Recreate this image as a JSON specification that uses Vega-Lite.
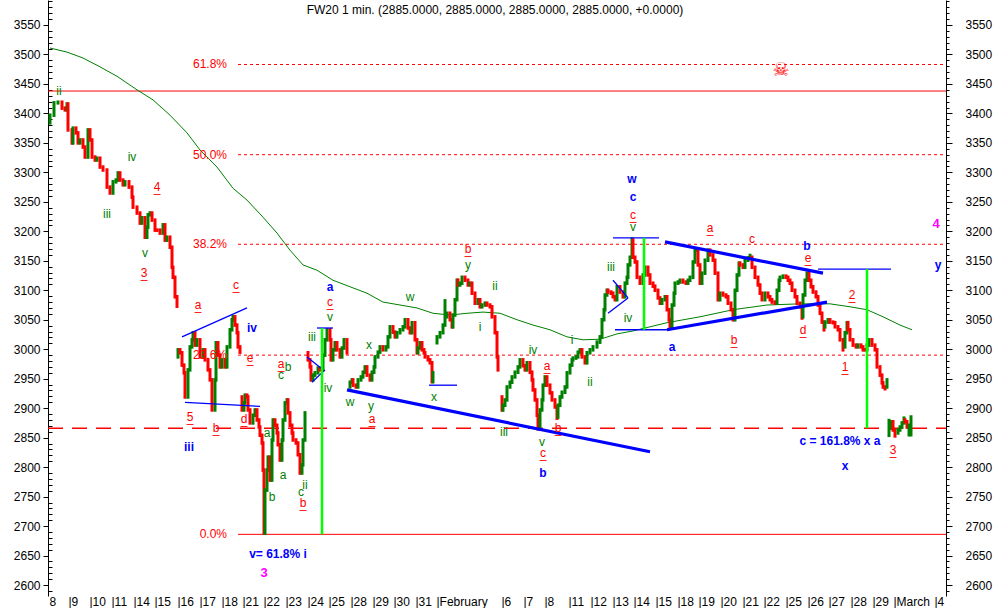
{
"$schema":"https://vega.github.io/schema/vega-lite/v6.json",
"width":898,"height":596,
"autosize":"none",
"padding":{"left":48,"top":0,"right":48,"bottom":12},
"background":"white",
"config":{"view":{"stroke":null},"font":"Liberation Sans","text":{"font":"Liberation Sans"}},
"resolve":{"axis":{"y":"independent"}},
"datasets":{
"dotted":[{"t":190,"t2":898,"v":3483},{"t":190,"t2":898,"v":3330},{"t":190,"t2":898,"v":3178},{"t":190,"t2":898,"v":2990}],
"solid":[{"t":0,"t2":898,"v":3438},{"t":190,"t2":898,"v":2686}],
"dashed":[{"t":0,"t2":898,"v":2866}],
"ma":[{"t":2,"v":3511},{"t":19,"v":3504},{"t":35,"v":3494},{"t":52,"v":3479},{"t":69,"v":3463},{"t":89,"v":3440},{"t":105,"v":3423},{"t":122,"v":3397},{"t":139,"v":3367},{"t":152,"v":3338},{"t":169,"v":3309},{"t":185,"v":3273},{"t":199,"v":3253},{"t":215,"v":3224},{"t":229,"v":3197},{"t":242,"v":3168},{"t":255,"v":3143},{"t":269,"v":3134},{"t":285,"v":3117},{"t":302,"v":3106},{"t":319,"v":3095},{"t":335,"v":3080},{"t":352,"v":3075},{"t":369,"v":3070},{"t":385,"v":3061},{"t":402,"v":3058},{"t":419,"v":3061},{"t":435,"v":3063},{"t":452,"v":3061},{"t":469,"v":3050},{"t":485,"v":3041},{"t":502,"v":3033},{"t":519,"v":3021},{"t":535,"v":3016},{"t":552,"v":3017},{"t":569,"v":3026},{"t":585,"v":3031},{"t":602,"v":3038},{"t":619,"v":3045},{"t":652,"v":3055},{"t":685,"v":3067},{"t":719,"v":3075},{"t":752,"v":3077},{"t":782,"v":3077},{"t":802,"v":3072},{"t":819,"v":3067},{"t":835,"v":3055},{"t":852,"v":3041},{"t":864,"v":3033}],
"px":[
{"t":2,"v":3381,"v2":3400,"d":"u"},{"t":6,"v":3394,"v2":3421,"d":"u"},{"t":10,"v":3415,"v2":3422,"d":"u"},{"t":14,"v":3406,"v2":3422,"d":"d"},{"t":17,"v":3403,"v2":3412,"d":"d"},{"t":19,"v":3403,"v2":3419,"d":"u"},{"t":20,"v":3369,"v2":3419,"d":"d"},{"t":24,"v":3347,"v2":3375,"d":"d"},{"t":25,"v":3347,"v2":3378,"d":"u"},{"t":28,"v":3364,"v2":3378,"d":"d"},{"t":30,"v":3347,"v2":3370,"d":"d"},{"t":32,"v":3347,"v2":3358,"d":"u"},{"t":35,"v":3340,"v2":3358,"d":"d"},{"t":37,"v":3323,"v2":3346,"d":"d"},{"t":40,"v":3323,"v2":3375,"d":"u"},{"t":42,"v":3352,"v2":3375,"d":"d"},{"t":44,"v":3323,"v2":3358,"d":"d"},{"t":47,"v":3318,"v2":3329,"d":"d"},{"t":49,"v":3318,"v2":3327,"d":"u"},{"t":52,"v":3306,"v2":3327,"d":"d"},{"t":55,"v":3301,"v2":3312,"d":"d"},{"t":59,"v":3272,"v2":3307,"d":"d"},{"t":62,"v":3262,"v2":3278,"d":"d"},{"t":65,"v":3262,"v2":3287,"d":"u"},{"t":68,"v":3281,"v2":3290,"d":"u"},{"t":70,"v":3284,"v2":3302,"d":"u"},{"t":72,"v":3284,"v2":3302,"d":"d"},{"t":75,"v":3276,"v2":3290,"d":"d"},{"t":77,"v":3276,"v2":3287,"d":"u"},{"t":81,"v":3272,"v2":3287,"d":"d"},{"t":84,"v":3255,"v2":3278,"d":"d"},{"t":85,"v":3238,"v2":3261,"d":"d"},{"t":89,"v":3228,"v2":3244,"d":"d"},{"t":92,"v":3211,"v2":3234,"d":"d"},{"t":94,"v":3211,"v2":3226,"d":"u"},{"t":97,"v":3187,"v2":3226,"d":"d"},{"t":99,"v":3187,"v2":3210,"d":"u"},{"t":100,"v":3204,"v2":3231,"d":"u"},{"t":102,"v":3225,"v2":3234,"d":"u"},{"t":104,"v":3216,"v2":3234,"d":"d"},{"t":107,"v":3199,"v2":3222,"d":"d"},{"t":109,"v":3199,"v2":3205,"d":"d"},{"t":112,"v":3194,"v2":3205,"d":"d"},{"t":115,"v":3194,"v2":3214,"d":"u"},{"t":117,"v":3182,"v2":3214,"d":"d"},{"t":119,"v":3182,"v2":3193,"d":"u"},{"t":122,"v":3170,"v2":3193,"d":"d"},{"t":124,"v":3136,"v2":3176,"d":"d"},{"t":125,"v":3119,"v2":3142,"d":"d"},{"t":127,"v":3086,"v2":3125,"d":"d"},{"t":129,"v":3070,"v2":3092,"d":"d"},
{"t":130,"v":2984,"v2":3002,"d":"u"},{"t":132,"v":2991,"v2":3002,"d":"d"},{"t":134,"v":2970,"v2":2997,"d":"d"},{"t":136,"v":2957,"v2":2976,"d":"d"},{"t":137,"v":2916,"v2":2963,"d":"d"},{"t":140,"v":2916,"v2":2968,"d":"u"},{"t":142,"v":2962,"v2":3007,"d":"u"},{"t":144,"v":3001,"v2":3019,"d":"u"},{"t":145,"v":3013,"v2":3031,"d":"u"},{"t":147,"v":3004,"v2":3031,"d":"d"},{"t":149,"v":3004,"v2":3019,"d":"u"},{"t":152,"v":2984,"v2":3019,"d":"d"},{"t":155,"v":2984,"v2":3002,"d":"u"},{"t":157,"v":2979,"v2":3002,"d":"d"},{"t":160,"v":2962,"v2":2985,"d":"d"},{"t":162,"v":2945,"v2":2968,"d":"d"},{"t":164,"v":2894,"v2":2951,"d":"d"},{"t":167,"v":2894,"v2":2951,"d":"u"},{"t":168,"v":2945,"v2":3014,"d":"u"},{"t":170,"v":2987,"v2":3014,"d":"d"},{"t":172,"v":2967,"v2":2993,"d":"d"},{"t":174,"v":2967,"v2":2985,"d":"u"},{"t":177,"v":2967,"v2":2985,"d":"d"},{"t":179,"v":2967,"v2":3007,"d":"u"},{"t":182,"v":3001,"v2":3036,"d":"u"},{"t":184,"v":3030,"v2":3053,"d":"u"},{"t":185,"v":3047,"v2":3058,"d":"u"},{"t":187,"v":3038,"v2":3058,"d":"d"},{"t":189,"v":3025,"v2":3044,"d":"d"},{"t":190,"v":3001,"v2":3031,"d":"d"},{"t":192,"v":2992,"v2":3007,"d":"d"},
{"t":194,"v":2894,"v2":2922,"d":"d"},{"t":196,"v":2894,"v2":2912,"d":"u"},{"t":197,"v":2906,"v2":2925,"d":"u"},{"t":199,"v":2916,"v2":2925,"d":"d"},{"t":200,"v":2894,"v2":2922,"d":"d"},{"t":202,"v":2872,"v2":2900,"d":"d"},{"t":205,"v":2872,"v2":2891,"d":"u"},{"t":207,"v":2885,"v2":2900,"d":"u"},{"t":209,"v":2877,"v2":2900,"d":"d"},{"t":211,"v":2865,"v2":2883,"d":"d"},{"t":212,"v":2851,"v2":2871,"d":"d"},{"t":214,"v":2838,"v2":2857,"d":"d"},{"t":215,"v":2792,"v2":2844,"d":"d"},{"t":216,"v":2685,"v2":2798,"d":"d"},{"t":217,"v":2685,"v2":2764,"d":"u"},{"t":219,"v":2758,"v2":2798,"d":"u"},{"t":220,"v":2792,"v2":2820,"d":"u"},{"t":222,"v":2775,"v2":2820,"d":"d"},{"t":224,"v":2775,"v2":2849,"d":"u"},{"t":225,"v":2843,"v2":2883,"d":"u"},{"t":227,"v":2868,"v2":2883,"d":"d"},{"t":229,"v":2855,"v2":2874,"d":"d"},{"t":230,"v":2835,"v2":2861,"d":"d"},{"t":232,"v":2809,"v2":2841,"d":"d"},{"t":234,"v":2809,"v2":2849,"d":"u"},{"t":235,"v":2843,"v2":2883,"d":"u"},{"t":237,"v":2877,"v2":2912,"d":"u"},{"t":239,"v":2906,"v2":2917,"d":"u"},{"t":240,"v":2889,"v2":2917,"d":"d"},{"t":242,"v":2868,"v2":2895,"d":"d"},{"t":244,"v":2855,"v2":2874,"d":"d"},{"t":245,"v":2843,"v2":2861,"d":"d"},{"t":248,"v":2838,"v2":2849,"d":"d"},{"t":250,"v":2818,"v2":2844,"d":"d"},{"t":252,"v":2787,"v2":2824,"d":"d"},{"t":254,"v":2787,"v2":2807,"d":"u"},{"t":255,"v":2801,"v2":2849,"d":"u"},{"t":257,"v":2843,"v2":2895,"d":"u"},
{"t":260,"v":2979,"v2":2997,"d":"d"},{"t":262,"v":2967,"v2":2985,"d":"d"},{"t":263,"v":2945,"v2":2973,"d":"d"},{"t":265,"v":2945,"v2":2959,"d":"u"},{"t":267,"v":2953,"v2":2963,"d":"u"},{"t":270,"v":2957,"v2":2971,"d":"u"},{"t":272,"v":2962,"v2":2971,"d":"d"},{"t":275,"v":2962,"v2":2993,"d":"u"},{"t":277,"v":2987,"v2":3019,"d":"u"},{"t":279,"v":3013,"v2":3036,"d":"u"},{"t":282,"v":3013,"v2":3036,"d":"d"},{"t":283,"v":2979,"v2":3019,"d":"d"},{"t":285,"v":2979,"v2":3002,"d":"u"},{"t":287,"v":2996,"v2":3014,"d":"u"},{"t":289,"v":2996,"v2":3014,"d":"d"},{"t":292,"v":2984,"v2":3002,"d":"d"},{"t":294,"v":2984,"v2":3005,"d":"u"},{"t":296,"v":2999,"v2":3019,"d":"u"},{"t":299,"v":2991,"v2":3019,"d":"d"},
{"t":302,"v":2933,"v2":2947,"d":"u"},{"t":304,"v":2941,"v2":2951,"d":"u"},{"t":305,"v":2936,"v2":2951,"d":"d"},{"t":308,"v":2933,"v2":2942,"d":"d"},{"t":310,"v":2933,"v2":2951,"d":"u"},{"t":313,"v":2945,"v2":2956,"d":"u"},{"t":315,"v":2950,"v2":2964,"d":"u"},{"t":317,"v":2958,"v2":2973,"d":"u"},{"t":319,"v":2953,"v2":2973,"d":"d"},{"t":322,"v":2945,"v2":2959,"d":"d"},{"t":324,"v":2945,"v2":2964,"d":"u"},{"t":326,"v":2958,"v2":2973,"d":"u"},{"t":327,"v":2967,"v2":2990,"d":"u"},{"t":330,"v":2984,"v2":2998,"d":"u"},{"t":332,"v":2992,"v2":3007,"d":"u"},{"t":335,"v":2996,"v2":3007,"d":"d"},{"t":338,"v":2996,"v2":3007,"d":"u"},{"t":340,"v":3001,"v2":3024,"d":"u"},{"t":342,"v":3018,"v2":3041,"d":"u"},{"t":345,"v":3026,"v2":3041,"d":"d"},{"t":347,"v":3018,"v2":3032,"d":"d"},{"t":349,"v":3018,"v2":3031,"d":"u"},{"t":352,"v":3025,"v2":3036,"d":"u"},{"t":355,"v":3030,"v2":3041,"d":"u"},{"t":357,"v":3035,"v2":3053,"d":"u"},{"t":360,"v":3033,"v2":3053,"d":"d"},{"t":362,"v":3025,"v2":3039,"d":"d"},{"t":364,"v":3025,"v2":3048,"d":"u"},{"t":367,"v":3013,"v2":3048,"d":"d"},{"t":369,"v":2991,"v2":3019,"d":"d"},{"t":370,"v":2991,"v2":3005,"d":"u"},{"t":372,"v":2999,"v2":3014,"d":"u"},{"t":374,"v":2996,"v2":3014,"d":"d"},{"t":376,"v":2991,"v2":3002,"d":"d"},{"t":377,"v":2984,"v2":2997,"d":"d"},{"t":380,"v":2979,"v2":2990,"d":"d"},{"t":382,"v":2974,"v2":2985,"d":"d"},{"t":384,"v":2942,"v2":2980,"d":"d"},{"t":385,"v":2942,"v2":2963,"d":"u"},
{"t":389,"v":3008,"v2":3024,"d":"u"},{"t":392,"v":3018,"v2":3031,"d":"u"},{"t":395,"v":3025,"v2":3044,"d":"u"},{"t":397,"v":3038,"v2":3085,"d":"u"},{"t":399,"v":3052,"v2":3064,"d":"u"},{"t":402,"v":3047,"v2":3064,"d":"d"},{"t":404,"v":3035,"v2":3053,"d":"d"},{"t":405,"v":3035,"v2":3061,"d":"u"},{"t":407,"v":3055,"v2":3087,"d":"u"},{"t":409,"v":3081,"v2":3120,"d":"u"},{"t":410,"v":3106,"v2":3120,"d":"d"},{"t":412,"v":3106,"v2":3115,"d":"u"},{"t":414,"v":3109,"v2":3125,"d":"u"},{"t":417,"v":3114,"v2":3125,"d":"d"},{"t":420,"v":3106,"v2":3120,"d":"d"},{"t":422,"v":3106,"v2":3115,"d":"u"},{"t":424,"v":3092,"v2":3115,"d":"d"},{"t":427,"v":3075,"v2":3098,"d":"d"},{"t":430,"v":3075,"v2":3087,"d":"u"},{"t":432,"v":3069,"v2":3087,"d":"d"},{"t":434,"v":3069,"v2":3078,"d":"u"},{"t":437,"v":3072,"v2":3081,"d":"u"},{"t":439,"v":3072,"v2":3081,"d":"d"},{"t":442,"v":3069,"v2":3078,"d":"d"},{"t":444,"v":3052,"v2":3075,"d":"d"},{"t":447,"v":3025,"v2":3058,"d":"d"},{"t":449,"v":2984,"v2":3031,"d":"d"},{"t":450,"v":2962,"v2":2990,"d":"d"},
{"t":454,"v":2894,"v2":2922,"d":"d"},{"t":455,"v":2894,"v2":2908,"d":"u"},{"t":457,"v":2902,"v2":2917,"d":"u"},{"t":459,"v":2911,"v2":2939,"d":"u"},{"t":462,"v":2933,"v2":2947,"d":"u"},{"t":464,"v":2941,"v2":2956,"d":"u"},{"t":467,"v":2950,"v2":2964,"d":"u"},{"t":470,"v":2958,"v2":2973,"d":"u"},{"t":472,"v":2967,"v2":2985,"d":"u"},{"t":475,"v":2969,"v2":2985,"d":"d"},{"t":477,"v":2962,"v2":2975,"d":"d"},{"t":479,"v":2962,"v2":2980,"d":"u"},{"t":482,"v":2958,"v2":2980,"d":"d"},{"t":484,"v":2945,"v2":2964,"d":"d"},{"t":485,"v":2928,"v2":2951,"d":"d"},{"t":487,"v":2911,"v2":2934,"d":"d"},{"t":489,"v":2885,"v2":2917,"d":"d"},{"t":490,"v":2862,"v2":2891,"d":"d"},{"t":492,"v":2865,"v2":2900,"d":"u"},{"t":494,"v":2894,"v2":2917,"d":"u"},{"t":495,"v":2911,"v2":2942,"d":"u"},{"t":497,"v":2936,"v2":2956,"d":"u"},{"t":499,"v":2936,"v2":2956,"d":"d"},{"t":502,"v":2923,"v2":2942,"d":"d"},{"t":504,"v":2911,"v2":2929,"d":"d"},{"t":507,"v":2899,"v2":2917,"d":"d"},{"t":509,"v":2880,"v2":2905,"d":"d"},{"t":510,"v":2882,"v2":2908,"d":"u"},{"t":512,"v":2902,"v2":2922,"d":"u"},{"t":514,"v":2916,"v2":2930,"d":"u"},{"t":517,"v":2924,"v2":2939,"d":"u"},{"t":519,"v":2933,"v2":2963,"d":"u"},{"t":522,"v":2957,"v2":2976,"d":"u"},{"t":524,"v":2970,"v2":2985,"d":"u"},{"t":525,"v":2979,"v2":2988,"d":"u"},{"t":528,"v":2982,"v2":2990,"d":"u"},{"t":530,"v":2984,"v2":2998,"d":"u"},{"t":532,"v":2992,"v2":3002,"d":"u"},{"t":534,"v":2984,"v2":3002,"d":"d"},{"t":537,"v":2974,"v2":2990,"d":"d"},{"t":539,"v":2974,"v2":2997,"d":"u"},{"t":542,"v":2991,"v2":3002,"d":"u"},{"t":545,"v":2996,"v2":3007,"d":"u"},{"t":549,"v":3001,"v2":3015,"d":"u"},{"t":552,"v":3009,"v2":3024,"d":"u"},{"t":554,"v":3018,"v2":3053,"d":"u"},{"t":556,"v":3047,"v2":3070,"d":"u"},{"t":557,"v":3064,"v2":3095,"d":"u"},{"t":559,"v":3089,"v2":3103,"d":"u"},{"t":560,"v":3094,"v2":3103,"d":"d"},{"t":563,"v":3092,"v2":3100,"d":"d"},{"t":565,"v":3086,"v2":3098,"d":"d"},{"t":567,"v":3081,"v2":3092,"d":"d"},{"t":569,"v":3081,"v2":3109,"d":"u"},{"t":572,"v":3094,"v2":3109,"d":"d"},{"t":575,"v":3086,"v2":3100,"d":"d"},{"t":577,"v":3086,"v2":3115,"d":"u"},{"t":579,"v":3109,"v2":3125,"d":"u"},{"t":580,"v":3119,"v2":3146,"d":"u"},{"t":582,"v":3140,"v2":3159,"d":"u"},{"t":584,"v":3153,"v2":3190,"d":"u"},{"t":585,"v":3153,"v2":3188,"d":"d"},{"t":587,"v":3145,"v2":3159,"d":"d"},{"t":589,"v":3119,"v2":3151,"d":"d"},{"t":592,"v":3109,"v2":3125,"d":"d"},{"t":595,"v":3109,"v2":3129,"d":"u"},{"t":597,"v":3123,"v2":3142,"d":"u"},{"t":600,"v":3123,"v2":3142,"d":"d"},{"t":602,"v":3109,"v2":3129,"d":"d"},{"t":605,"v":3104,"v2":3115,"d":"d"},{"t":607,"v":3097,"v2":3110,"d":"d"},{"t":610,"v":3084,"v2":3103,"d":"d"},{"t":612,"v":3075,"v2":3090,"d":"d"},{"t":614,"v":3075,"v2":3087,"d":"u"},{"t":617,"v":3081,"v2":3092,"d":"u"},{"t":619,"v":3064,"v2":3092,"d":"d"},{"t":621,"v":3047,"v2":3070,"d":"d"},{"t":622,"v":3033,"v2":3053,"d":"d"},{"t":624,"v":3035,"v2":3078,"d":"u"},{"t":626,"v":3072,"v2":3098,"d":"u"},{"t":627,"v":3092,"v2":3115,"d":"u"},{"t":630,"v":3109,"v2":3117,"d":"u"},{"t":632,"v":3111,"v2":3120,"d":"u"},{"t":635,"v":3111,"v2":3120,"d":"d"},{"t":638,"v":3109,"v2":3117,"d":"d"},{"t":640,"v":3109,"v2":3120,"d":"u"},{"t":642,"v":3114,"v2":3125,"d":"u"},{"t":645,"v":3119,"v2":3151,"d":"u"},{"t":647,"v":3145,"v2":3171,"d":"u"},{"t":649,"v":3165,"v2":3171,"d":"u"},{"t":650,"v":3140,"v2":3171,"d":"d"},{"t":652,"v":3109,"v2":3146,"d":"d"},{"t":654,"v":3109,"v2":3132,"d":"u"},{"t":657,"v":3126,"v2":3154,"d":"u"},{"t":660,"v":3148,"v2":3171,"d":"u"},{"t":662,"v":3157,"v2":3171,"d":"d"},{"t":665,"v":3148,"v2":3163,"d":"d"},{"t":667,"v":3126,"v2":3154,"d":"d"},{"t":670,"v":3081,"v2":3132,"d":"d"},{"t":672,"v":3081,"v2":3098,"d":"u"},{"t":675,"v":3089,"v2":3098,"d":"d"},{"t":678,"v":3086,"v2":3095,"d":"d"},{"t":680,"v":3075,"v2":3092,"d":"d"},{"t":683,"v":3064,"v2":3081,"d":"d"},{"t":685,"v":3047,"v2":3070,"d":"d"},{"t":687,"v":3047,"v2":3103,"d":"u"},{"t":689,"v":3097,"v2":3129,"d":"u"},{"t":691,"v":3123,"v2":3149,"d":"u"},{"t":692,"v":3140,"v2":3149,"d":"d"},{"t":695,"v":3136,"v2":3146,"d":"d"},{"t":697,"v":3136,"v2":3154,"d":"u"},{"t":700,"v":3148,"v2":3158,"d":"u"},{"t":702,"v":3152,"v2":3162,"d":"u"},{"t":704,"v":3136,"v2":3159,"d":"d"},{"t":707,"v":3119,"v2":3142,"d":"d"},{"t":710,"v":3106,"v2":3125,"d":"d"},{"t":712,"v":3092,"v2":3112,"d":"d"},{"t":714,"v":3081,"v2":3098,"d":"d"},{"t":717,"v":3081,"v2":3098,"d":"u"},{"t":720,"v":3086,"v2":3098,"d":"d"},{"t":722,"v":3081,"v2":3092,"d":"d"},{"t":724,"v":3077,"v2":3087,"d":"d"},{"t":727,"v":3075,"v2":3083,"d":"d"},{"t":729,"v":3075,"v2":3103,"d":"u"},{"t":731,"v":3097,"v2":3120,"d":"u"},{"t":732,"v":3114,"v2":3125,"d":"u"},{"t":735,"v":3119,"v2":3127,"d":"u"},{"t":738,"v":3119,"v2":3127,"d":"d"},{"t":740,"v":3114,"v2":3125,"d":"d"},{"t":742,"v":3109,"v2":3120,"d":"d"},{"t":744,"v":3097,"v2":3115,"d":"d"},{"t":747,"v":3086,"v2":3103,"d":"d"},{"t":749,"v":3075,"v2":3092,"d":"d"},{"t":752,"v":3069,"v2":3081,"d":"d"},{"t":754,"v":3050,"v2":3075,"d":"d"},{"t":755,"v":3052,"v2":3095,"d":"u"},{"t":757,"v":3089,"v2":3120,"d":"u"},{"t":759,"v":3114,"v2":3132,"d":"u"},{"t":761,"v":3114,"v2":3132,"d":"d"},{"t":763,"v":3103,"v2":3120,"d":"d"},{"t":765,"v":3094,"v2":3109,"d":"d"},{"t":768,"v":3086,"v2":3100,"d":"d"},{"t":770,"v":3072,"v2":3092,"d":"d"},{"t":772,"v":3058,"v2":3078,"d":"d"},{"t":774,"v":3043,"v2":3064,"d":"d"},{"t":776,"v":3030,"v2":3049,"d":"d"},{"t":777,"v":3035,"v2":3049,"d":"u"},{"t":780,"v":3043,"v2":3053,"d":"u"},{"t":782,"v":3043,"v2":3053,"d":"d"},{"t":785,"v":3042,"v2":3049,"d":"d"},{"t":787,"v":3035,"v2":3048,"d":"d"},{"t":790,"v":3030,"v2":3041,"d":"d"},{"t":792,"v":3013,"v2":3036,"d":"d"},{"t":795,"v":2996,"v2":3019,"d":"d"},{"t":797,"v":3001,"v2":3031,"d":"u"},{"t":799,"v":3025,"v2":3048,"d":"u"},{"t":800,"v":3030,"v2":3048,"d":"d"},{"t":802,"v":3013,"v2":3036,"d":"d"},{"t":805,"v":3004,"v2":3019,"d":"d"},{"t":808,"v":3001,"v2":3010,"d":"d"},{"t":810,"v":3001,"v2":3010,"d":"u"},{"t":813,"v":3001,"v2":3010,"d":"d"},{"t":815,"v":2996,"v2":3007,"d":"d"},{"t":817,"v":2996,"v2":3002,"d":"d"},{"t":819,"v":2996,"v2":3010,"d":"u"},{"t":821,"v":3004,"v2":3019,"d":"u"},{"t":824,"v":3004,"v2":3019,"d":"d"},{"t":827,"v":2996,"v2":3010,"d":"d"},{"t":829,"v":2967,"v2":3002,"d":"d"},{"t":832,"v":2953,"v2":2973,"d":"d"},{"t":834,"v":2940,"v2":2959,"d":"d"},{"t":835,"v":2933,"v2":2946,"d":"d"},{"t":837,"v":2930,"v2":2939,"d":"d"},{"t":839,"v":2933,"v2":2951,"d":"u"},
{"t":841,"v":2851,"v2":2882,"d":"u"},{"t":843,"v":2863,"v2":2880,"d":"u"},{"t":845,"v":2860,"v2":2880,"d":"d"},{"t":847,"v":2850,"v2":2866,"d":"d"},{"t":850,"v":2855,"v2":2866,"d":"u"},{"t":852,"v":2860,"v2":2871,"d":"u"},{"t":854,"v":2865,"v2":2878,"d":"u"},{"t":856,"v":2872,"v2":2886,"d":"u"},{"t":857,"v":2874,"v2":2883,"d":"d"},{"t":859,"v":2865,"v2":2880,"d":"d"},{"t":861,"v":2852,"v2":2874,"d":"u"},{"t":863,"v":2852,"v2":2888,"d":"u"}],
"bthin":[{"t":134,"v":3021,"t2":199,"v2":3070},{"t":137,"v":2910,"t2":212,"v2":2903},{"t":269,"v":3036,"t2":285,"v2":3036},{"t":381,"v":2939,"t2":409,"v2":2939},{"t":565,"v":3189,"t2":611,"v2":3189},{"t":567,"v":3033,"t2":622,"v2":3033},{"t":770,"v":3136,"t2":843,"v2":3136},{"t":259,"v":2987,"t2":275,"v2":2965},{"t":264,"v":2944,"t2":277,"v2":2965},{"t":560,"v":3061,"t2":580,"v2":3087},{"t":565,"v":3117,"t2":580,"v2":3087}],
"bthick":[{"t":299,"v":2931,"t2":602,"v2":2826},{"t":617,"v":3182,"t2":775,"v2":3129},{"t":619,"v":3033,"t2":779,"v2":3080}],
"lime":[{"t":274,"v":3036,"v2":2686},{"t":596,"v":3189,"v2":3033},{"t":819,"v":3136,"v2":2866}],
"fibtxt":[{"t":179,"v":3483,"s":"61.8%"},{"t":179,"v":3330,"s":"50.0%"},{"t":179,"v":3178,"s":"38.2%"},{"t":179,"v":2990,"s":"23.6%"},{"t":179,"v":2686,"s":"0.0%"}],
"gtxt":[{"t":11,"v":3438,"s":"ii"},{"t":84,"v":3326,"s":"iv"},{"t":59,"v":3229,"s":"iii"},{"t":97,"v":3163,"s":"v"},{"t":264,"v":3021,"s":"iii"},{"t":280,"v":2934,"s":"iv"},{"t":282,"v":3055,"s":"v"},{"t":362,"v":3089,"s":"w"},{"t":321,"v":3007,"s":"x"},{"t":302,"v":2910,"s":"w"},{"t":323,"v":2904,"s":"y"},{"t":386,"v":2919,"s":"x"},{"t":420,"v":3143,"s":"y"},{"t":447,"v":3107,"s":"ii"},{"t":432,"v":3038,"s":"i"},{"t":485,"v":2999,"s":"iv"},{"t":456,"v":2860,"s":"iii"},{"t":494,"v":2843,"s":"v"},{"t":542,"v":2944,"s":"ii"},{"t":563,"v":3139,"s":"iii"},{"t":580,"v":3053,"s":"iv"},{"t":585,"v":3207,"s":"v"},{"t":524,"v":3016,"s":"i"},{"t":219,"v":2858,"s":"a"},{"t":224,"v":2749,"s":"b"},{"t":235,"v":2787,"s":"a"},{"t":257,"v":2770,"s":"ii"},{"t":253,"v":2758,"s":"c"},{"t":240,"v":2970,"s":"b"},{"t":233,"v":2956,"s":"c"}],
"rtxt":[{"t":109,"v":3275,"s":"4"},{"t":96,"v":3129,"s":"3"},{"t":150,"v":3075,"s":"a"},{"t":188,"v":3109,"s":"c"},{"t":202,"v":2985,"s":"e"},{"t":142,"v":2885,"s":"5"},{"t":168,"v":2866,"s":"b"},{"t":196,"v":2882,"s":"d"},{"t":233,"v":2975,"s":"a"},{"t":255,"v":2739,"s":"b"},{"t":282,"v":3080,"s":"c"},{"t":324,"v":2881,"s":"a"},{"t":420,"v":3170,"s":"b"},{"t":499,"v":2972,"s":"a"},{"t":510,"v":2866,"s":"b"},{"t":495,"v":2824,"s":"c"},{"t":585,"v":3228,"s":"c"},{"t":662,"v":3206,"s":"a"},{"t":686,"v":3016,"s":"b"},{"t":760,"v":3155,"s":"e"},{"t":755,"v":3033,"s":"d"},{"t":804,"v":3092,"s":"2"},{"t":797,"v":2970,"s":"1"},{"t":845,"v":2829,"s":"3"}],
"rplain":[{"t":704,"v":3187,"s":"c"}],
"btxt":[{"t":141,"v":2834,"s":"iii"},{"t":204,"v":3036,"s":"iv"},{"t":282,"v":3106,"s":"a"},{"t":495,"v":2790,"s":"b"},{"t":584,"v":3289,"s":"w"},{"t":585,"v":3258,"s":"c"},{"t":624,"v":3004,"s":"a"},{"t":759,"v":3175,"s":"b"},{"t":890,"v":3143,"s":"y"},{"t":792,"v":2844,"s":"c = 161.8% x a"},{"t":797,"v":2802,"s":"x"},{"t":230,"v":2653,"s":"v= 61.8% i"}],
"mtxt":[{"t":888,"v":3212,"s":"4"},{"t":216,"v":2620,"s":"3"}],
"skull":[{"t":733,"v":3474,"s":"\u2620"}],
"title":[{"t":447,"v":3575,"s":"FW20 1 min. (2885.0000, 2885.0000, 2885.0000, 2885.0000, +0.0000)"}]
},
"encoding":{
"x":{"field":"t","type":"quantitative","scale":{"domain":[0,898],"nice":false,"zero":false},
   "axis":{"orient":"bottom","values":[1,20,41,63,85,106,129,151,173,194,215,237,259,280,302,324,345,367,388,453,475,496,520,542,564,585,607,629,650,672,694,715,737,759,780,802,824,845,886],
   "labelExpr":"datum.value==1?'8':datum.value==20?'|9':datum.value==41?'|10':datum.value==63?'|11':datum.value==85?'|14':datum.value==106?'|15':datum.value==129?'|16':datum.value==151?'|17':datum.value==173?'|18':datum.value==194?'|21':datum.value==215?'|22':datum.value==237?'|23':datum.value==259?'|24':datum.value==280?'|25':datum.value==302?'|28':datum.value==324?'|29':datum.value==345?'|30':datum.value==367?'|31':datum.value==388?'|February':datum.value==453?'|6':datum.value==475?'|7':datum.value==496?'|8':datum.value==520?'|11':datum.value==542?'|12':datum.value==564?'|13':datum.value==585?'|14':datum.value==607?'|15':datum.value==629?'|18':datum.value==650?'|19':datum.value==672?'|20':datum.value==694?'|21':datum.value==715?'|22':datum.value==737?'|25':datum.value==759?'|26':datum.value==780?'|27':datum.value==802?'|28':datum.value==824?'|29':datum.value==845?'|March':datum.value==886?'|4':''",
   "domain":false,"ticks":false,"grid":false,"labelAlign":"left","labelBaseline":"top","labelPadding":0,"labelFontSize":12,"labelFont":"Liberation Sans","labelColor":"#000000","labelOverlap":false,"labelBound":false,"labelFlush":false,"labelAngle":0,"title":null}},
"y":{"field":"v","type":"quantitative","scale":{"domain":[2581.4,3592.4],"nice":false,"zero":false},"axis":null}
},
"layer":[
{"data":{"name":"dotted"},"mark":{"type":"rule","color":"#ff0000","strokeDash":[3,3],"strokeWidth":1},
 "encoding":{
  "x2":{"field":"t2"},
  "y":{"field":"v","type":"quantitative","scale":{"domain":[2581.4,3592.4],"nice":false,"zero":false},
   "axis":{"orient":"left","values":[2590,2600,2610,2620,2630,2640,2650,2660,2670,2680,2690,2700,2710,2720,2730,2740,2750,2760,2770,2780,2790,2800,2810,2820,2830,2840,2850,2860,2870,2880,2890,2900,2910,2920,2930,2940,2950,2960,2970,2980,2990,3000,3010,3020,3030,3040,3050,3060,3070,3080,3090,3100,3110,3120,3130,3140,3150,3160,3170,3180,3190,3200,3210,3220,3230,3240,3250,3260,3270,3280,3290,3300,3310,3320,3330,3340,3350,3360,3370,3380,3390,3400,3410,3420,3430,3440,3450,3460,3470,3480,3490,3500,3510,3520,3530,3540,3550,3560,3570,3580,3590],
   "format":"d","labelExpr":"datum.value % 50 === 0 ? datum.label : ''",
   "tickSize":{"condition":{"test":"datum.value % 50 === 0","value":5},"value":-4},
   "labelPadding":3,"tickColor":"#000000","domainColor":"#000000","labelFontSize":12,"labelFont":"Liberation Sans","labelColor":"#000000","grid":false,"title":null,"labelOverlap":false,"labelBound":false,"labelFlush":false}}}},
{"data":{"name":"solid"},"mark":{"type":"rule","color":"#ff0000","strokeWidth":1},"encoding":{"x2":{"field":"t2"}}},
{"data":{"name":"dashed"},"mark":{"type":"rule","color":"#ff0000","strokeWidth":1.5,"strokeDash":[15,9]},"encoding":{"x2":{"field":"t2"}}},
{"data":{"name":"ma"},"mark":{"type":"line","color":"#008000","strokeWidth":1},
 "encoding":{"y":{"field":"v","type":"quantitative","scale":{"domain":[2581.4,3592.4],"nice":false,"zero":false},
   "axis":{"orient":"right","values":[2590,2600,2610,2620,2630,2640,2650,2660,2670,2680,2690,2700,2710,2720,2730,2740,2750,2760,2770,2780,2790,2800,2810,2820,2830,2840,2850,2860,2870,2880,2890,2900,2910,2920,2930,2940,2950,2960,2970,2980,2990,3000,3010,3020,3030,3040,3050,3060,3070,3080,3090,3100,3110,3120,3130,3140,3150,3160,3170,3180,3190,3200,3210,3220,3230,3240,3250,3260,3270,3280,3290,3300,3310,3320,3330,3340,3350,3360,3370,3380,3390,3400,3410,3420,3430,3440,3450,3460,3470,3480,3490,3500,3510,3520,3530,3540,3550,3560,3570,3580,3590],
   "format":"d","labelExpr":"datum.value % 50 === 0 ? datum.label : ''",
   "tickSize":{"condition":{"test":"datum.value % 50 === 0","value":6},"value":3},
   "labelPadding":13,"tickColor":"#000000","domainColor":"#000000","labelFontSize":12,"labelFont":"Liberation Sans","labelColor":"#000000","grid":false,"title":null,"labelOverlap":false,"labelBound":false,"labelFlush":false}}}},
{"data":{"name":"px"},"mark":{"type":"rule","strokeWidth":3},
 "encoding":{"y2":{"field":"v2"},"color":{"field":"d","type":"nominal","scale":{"domain":["u","d"],"range":["#008000","#ff0000"]},"legend":null}}},
{"data":{"name":"bthin"},"mark":{"type":"rule","color":"#0000ff","strokeWidth":1.3},"encoding":{"x2":{"field":"t2"},"y2":{"field":"v2"}}},
{"data":{"name":"bthick"},"mark":{"type":"rule","color":"#0000ff","strokeWidth":3.2},"encoding":{"x2":{"field":"t2"},"y2":{"field":"v2"}}},
{"data":{"name":"lime"},"mark":{"type":"rule","color":"#00ff00","strokeWidth":2.5},"encoding":{"y2":{"field":"v2"}}},
{"data":{"name":"fibtxt"},"mark":{"type":"text","color":"#ff0000","fontSize":12,"align":"right","baseline":"middle"},"encoding":{"text":{"field":"s"}}},
{"data":{"name":"gtxt"},"mark":{"type":"text","color":"#008000","fontSize":12,"align":"center","baseline":"middle"},"encoding":{"text":{"field":"s"}}},
{"data":{"name":"rtxt"},"mark":{"type":"text","color":"#ff0000","fontSize":12,"align":"center","baseline":"middle"},"encoding":{"text":{"field":"s"}}},
{"data":{"name":"rtxt"},"mark":{"type":"text","color":"#ff0000","fontSize":12,"align":"center","baseline":"middle","dy":1},"encoding":{"text":{"value":"_"}}},
{"data":{"name":"rplain"},"mark":{"type":"text","color":"#ff0000","fontSize":12,"align":"center","baseline":"middle"},"encoding":{"text":{"field":"s"}}},
{"data":{"name":"btxt"},"mark":{"type":"text","color":"#0000ff","fontSize":12,"fontWeight":"bold","align":"center","baseline":"middle"},"encoding":{"text":{"field":"s"}}},
{"data":{"name":"mtxt"},"mark":{"type":"text","color":"#ff00ff","fontSize":13,"fontWeight":"bold","align":"center","baseline":"middle"},"encoding":{"text":{"field":"s"}}},
{"data":{"name":"skull"},"mark":{"type":"text","color":"#ff0000","fontSize":19,"font":"DejaVu Sans","align":"center","baseline":"middle"},"encoding":{"text":{"field":"s"}}},
{"data":{"name":"title"},"mark":{"type":"text","color":"#000000","fontSize":12,"align":"center","baseline":"middle"},"encoding":{"text":{"field":"s"}}}
]
}
